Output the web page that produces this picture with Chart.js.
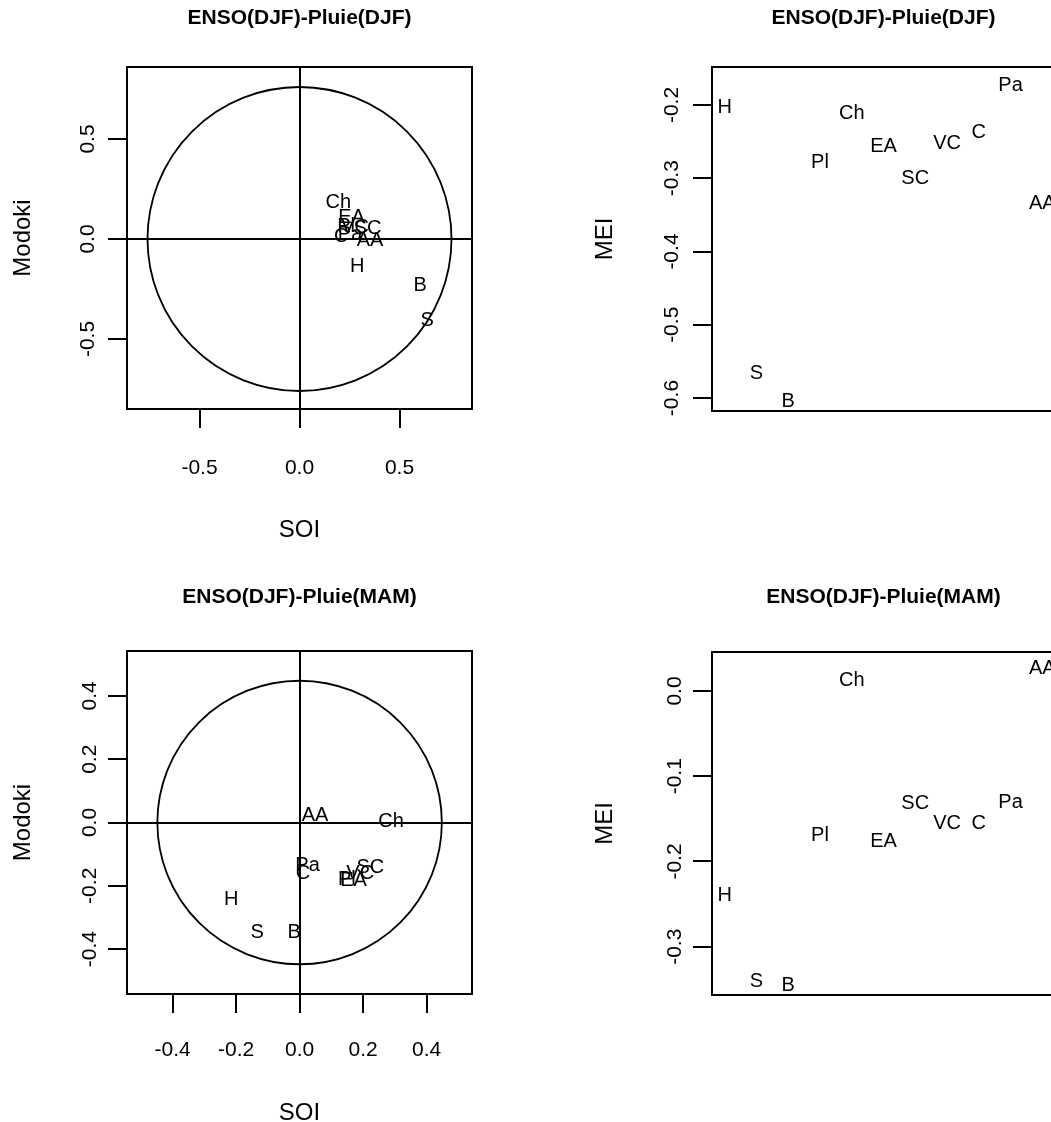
<!DOCTYPE html>
<html><head><meta charset="utf-8">
<script src="https://cdn.jsdelivr.net/npm/chart.js@4.4.1/dist/chart.umd.min.js"></script>
<style>
html,body{margin:0;padding:0;overflow:hidden;background:#fff;width:1051px;height:1122px;position:relative;}
canvas{position:absolute;}
</style></head><body>
<canvas id="tl" width="525" height="561" style="left:0;top:0"></canvas>
<canvas id="tr" width="600" height="561" style="left:525px;top:0"></canvas>
<canvas id="bl" width="525" height="561" style="left:0;top:561px"></canvas>
<canvas id="br" width="600" height="561" style="left:525px;top:561px"></canvas>
<script>
// ---- data ----
const stations = ['H','S','B','Pl','Ch','EA','SC','VC','C','Pa','AA'];

const soiDJF    = [0.288, 0.638, 0.603, 0.233, 0.194, 0.260, 0.340, 0.278, 0.208, 0.253, 0.353];
const modokiDJF = [-0.135, -0.405, -0.230, 0.065, 0.185, 0.110, 0.055, 0.060, 0.015, 0.025, -0.005];
const meiDJF    = [-0.203, -0.567, -0.605, -0.279, -0.211, -0.257, -0.300, -0.253, -0.238, -0.173, -0.334];

const soiMAM    = [-0.215, -0.134, -0.017, 0.149, 0.288, 0.170, 0.223, 0.191, 0.011, 0.025, 0.0485];
const modokiMAM = [-0.242, -0.349, -0.349, -0.181, 0.003, -0.183, -0.141, -0.160, -0.160, -0.137, 0.021];
const meiMAM    = [-0.2395, -0.341, -0.345, -0.170, 0.0125, -0.177, -0.132, -0.155, -0.155, -0.131, 0.026];

const circleRadiusDJF = 0.76;
const circleRadiusMAM = 0.448;

const ticksSoiDJF    = [-0.5, 0.0, 0.5];
const ticksModokiDJF = [-0.5, 0.0, 0.5];
const ticksMeiDJF    = [-0.6, -0.5, -0.4, -0.3, -0.2];
const ticksSoiMAM    = [-0.4, -0.2, 0.0, 0.2, 0.4];
const ticksModokiMAM = [-0.4, -0.2, 0.0, 0.2, 0.4];
const ticksMeiMAM    = [-0.3, -0.2, -0.1, 0.0];

const titleDJF = 'ENSO(DJF)-Pluie(DJF)';
const titleMAM = 'ENSO(DJF)-Pluie(MAM)';
const labelSOI = 'SOI', labelModoki = 'Modoki', labelMEI = 'MEI';

// ---- rendering ----
Chart.defaults.font.family = '"Liberation Sans", Arial, Helvetica, sans-serif';
Chart.defaults.color = '#000';

const panelPlugin = {
  id: 'panel',
  beforeDatasetsDraw(chart, args, opts) {
    if (!opts.radius) return;
    const ctx = chart.ctx, xs = chart.scales.x, ys = chart.scales.y;
    const cx = xs.getPixelForValue(0), cy = ys.getPixelForValue(0);
    const rx = Math.abs(xs.getPixelForValue(opts.radius) - cx);
    const ry = Math.abs(ys.getPixelForValue(opts.radius) - cy);
    ctx.save();
    ctx.strokeStyle = '#000'; ctx.lineWidth = 1.8;
    ctx.beginPath(); ctx.ellipse(cx, cy, rx, ry, 0, 0, Math.PI * 2); ctx.stroke();
    ctx.restore();
  },
  afterDatasetsDraw(chart, args, opts) {
    const ctx = chart.ctx, ca = chart.chartArea;
    const meta = chart.getDatasetMeta(0);
    ctx.save();
    ctx.beginPath(); ctx.rect(ca.left, ca.top, ca.right - ca.left, ca.bottom - ca.top); ctx.clip();
    ctx.fillStyle = '#000';
    ctx.font = '20px "Liberation Sans", Arial, sans-serif';
    ctx.textAlign = 'center'; ctx.textBaseline = 'middle';
    meta.data.forEach((pt, i) => ctx.fillText(opts.labels[i], pt.x, pt.y));
    ctx.restore();
  },
  afterDraw(chart, args, opts) {
    const ctx = chart.ctx, ca = chart.chartArea;
    ctx.save();
    ctx.strokeStyle = '#000'; ctx.lineWidth = 2;
    ctx.strokeRect(Math.round(ca.left), Math.round(ca.top), Math.round(ca.right - ca.left), Math.round(ca.bottom - ca.top));
    ctx.fillStyle = '#000';
    ctx.font = 'bold 21px "Liberation Sans", Arial, sans-serif';
    ctx.textAlign = 'center'; ctx.textBaseline = 'middle';
    ctx.fillText(opts.title, (ca.left + ca.right) / 2, opts.titleY);
    ctx.restore();
  }
};

function zeroColor(c) {
  return (c.tick && Math.abs(c.tick.value) < 1e-9) ? '#000' : 'rgba(0,0,0,0)';
}

function makePanel(id, p) {
  const data = p.xs.map((x, i) => ({ x: x, y: p.ys[i] }));
  const xScale = {
    type: 'linear', min: p.xMin, max: p.xMax, display: p.showX,
    afterBuildTicks: s => { if (p.xTicks) s.ticks = p.xTicks.map(v => ({ value: v })); },
    afterFit: s => { if (p.showX) s.height = p.xHeight; },
    border: { display: false },
    grid: { drawOnChartArea: p.zeroLines, color: zeroColor, tickColor: '#000', tickLength: 19, lineWidth: 2, tickWidth: 2 },
    ticks: { autoSkip: false, maxRotation: 0, minRotation: 0, padding: p.xTickPad, color: '#000',
             font: { size: 21, lineHeight: 1 }, callback: v => Number(v).toFixed(1) },
    title: { display: p.showX, text: p.xTitle, color: '#000', font: { size: 24, lineHeight: 1 }, padding: { top: 0, bottom: p.xTitlePad } }
  };
  const yScale = {
    type: 'linear', min: p.yMin, max: p.yMax,
    afterBuildTicks: s => { s.ticks = p.yTicks.map(v => ({ value: v })); },
    afterFit: s => { s.width = p.yWidth; },
    border: { display: false },
    grid: { drawOnChartArea: p.zeroLines, color: zeroColor, tickColor: '#000', tickLength: 19, lineWidth: 2, tickWidth: 2 },
    ticks: { autoSkip: false, minRotation: 90, maxRotation: 90, crossAlign: 'center', padding: p.yTickPad, color: '#000',
             font: { size: 21, lineHeight: 1 }, callback: v => Number(v).toFixed(1) },
    title: { display: true, text: p.yTitle, color: '#000', font: { size: 24, lineHeight: 1 }, padding: { top: p.yTitlePad, bottom: 0 } }
  };
  return new Chart(document.getElementById(id), {
    type: 'scatter',
    data: { datasets: [{ data: data, pointRadius: 0, pointHoverRadius: 0, showLine: false }] },
    options: {
      responsive: false, animation: false, events: [],
      layout: { padding: p.pad },
      scales: { x: xScale, y: yScale },
      plugins: {
        legend: { display: false }, tooltip: { enabled: false }, title: { display: false },
        panel: { radius: p.radius, labels: stations, title: p.title, titleY: p.titleY }
      }
    },
    plugins: [panelPlugin]
  });
}

const stationIndex = stations.map((s, i) => i + 1);

makePanel('tl', {
  xs: soiDJF, ys: modokiDJF, xMin: -0.8625, xMax: 0.8625, yMin: -0.85, yMax: 0.86,
  xTicks: ticksSoiDJF, yTicks: ticksModokiDJF, showX: true, zeroLines: true, radius: circleRadiusDJF,
  xTitle: labelSOI, yTitle: labelModoki, title: titleDJF, titleY: 18,
  pad: { left: 0, top: 67, right: 53, bottom: 0 }, yWidth: 127, xHeight: 152,
  xTickPad: 30, xTitlePad: 19, yTickPad: 2, yTitlePad: 11
});
makePanel('tr', {
  xs: stationIndex, ys: meiDJF, xMin: 0.6, xMax: 11.4, yMin: -0.6177, yMax: -0.1481,
  xTicks: null, yTicks: ticksMeiDJF, showX: false, zeroLines: false, radius: 0,
  xTitle: '', yTitle: labelMEI, title: titleDJF, titleY: 18,
  pad: { left: 0, top: 67, right: 70, bottom: 150 }, yWidth: 187, xHeight: 0,
  xTickPad: 0, xTitlePad: 0, yTickPad: 3, yTitlePad: 68
});
makePanel('bl', {
  xs: soiMAM, ys: modokiMAM, xMin: -0.5436, xMax: 0.543, yMin: -0.542, yMax: 0.542,
  xTicks: ticksSoiMAM, yTicks: ticksModokiMAM, showX: true, zeroLines: true, radius: circleRadiusMAM,
  xTitle: labelSOI, yTitle: labelModoki, title: titleMAM, titleY: 36.5,
  pad: { left: 0, top: 90, right: 53, bottom: 0 }, yWidth: 127, xHeight: 128,
  xTickPad: 27, xTitlePad: -3, yTickPad: 0, yTitlePad: 11
});
makePanel('br', {
  xs: stationIndex, ys: meiMAM, xMin: 0.6, xMax: 11.4, yMin: -0.3566, yMax: 0.0457,
  xTicks: null, yTicks: ticksMeiMAM, showX: false, zeroLines: false, radius: 0,
  xTitle: '', yTitle: labelMEI, title: titleMAM, titleY: 36.5,
  pad: { left: 0, top: 91, right: 70, bottom: 127 }, yWidth: 187, xHeight: 0,
  xTickPad: 0, xTitlePad: 0, yTickPad: 0, yTitlePad: 68
});
</script>
</body></html>
